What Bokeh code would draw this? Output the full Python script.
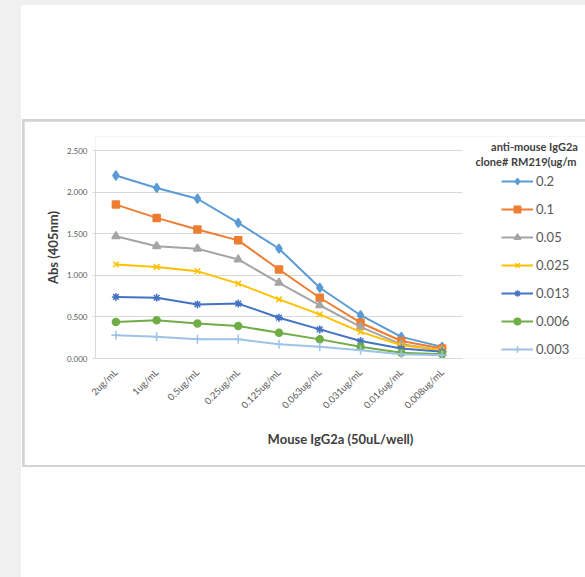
from bokeh.plotting import figure
from bokeh.models import (Range1d, Legend, LegendItem, Label, FixedTicker,
                          CustomJSTickFormatter, Spacer)
from bokeh.layouts import column, row
from bokeh.embed import file_html
from bokeh.resources import INLINE

categories = ["2ug/mL", "1ug/mL", "0.5ug/mL", "0.25ug/mL", "0.125ug/mL",
              "0.063ug/mL", "0.031ug/mL", "0.016ug/mL", "0.008ug/mL"]

s_0_2 = [2.20, 2.05, 1.92, 1.63, 1.32, 0.85, 0.52, 0.26, 0.14]
s_0_1 = [1.85, 1.69, 1.55, 1.42, 1.07, 0.73, 0.43, 0.21, 0.12]
s_0_05 = [1.47, 1.35, 1.32, 1.19, 0.91, 0.64, 0.38, 0.17, 0.10]
s_0_025 = [1.13, 1.10, 1.05, 0.90, 0.71, 0.53, 0.32, 0.16, 0.10]
s_0_013 = [0.74, 0.73, 0.65, 0.66, 0.49, 0.35, 0.21, 0.12, 0.08]
s_0_006 = [0.44, 0.46, 0.42, 0.39, 0.31, 0.23, 0.14, 0.07, 0.05]
s_0_003 = [0.28, 0.26, 0.23, 0.23, 0.17, 0.14, 0.10, 0.05, 0.04]

series_names = ["0.2", "0.1", "0.05", "0.025", "0.013", "0.006", "0.003"]
series_values = [s_0_2, s_0_1, s_0_05, s_0_025, s_0_013, s_0_006, s_0_003]
series_colors = ["#5B9BD5", "#ED7D31", "#A5A5A5", "#FFC000", "#4472C4", "#70AD47", "#9DC3E6"]
series_markers = ["diamond", "square", "triangle", "x", "asterisk", "circle", "cross"]
marker_sizes = [9, 7, 8, 8, 8, 7, 9]

y_ticks = [0.0, 0.5, 1.0, 1.5, 2.0, 2.5]

legend_title_1 = "anti-mouse IgG2a"
legend_title_2 = "clone# RM219(ug/m"
x_title = "Mouse IgG2a (50uL/well)"
y_title = "Abs (405nm)"

# ---- geometry (page pixels) ----
BOX_X, BOX_Y = 24, 121          # figure top-left on the page (inside chart box border)
FIG_W, FIG_H = 561, 344
F_LEFT, F_RIGHT, F_TOP, F_BOTTOM = 95, 585, 136, 358   # frame on page
PLOT_RIGHT, PLOT_TOP = 462, 150                          # where the data area ends

xi = list(range(len(categories)))
n = len(categories)
x_lo, x_hi = -0.5, n - 0.5
px_per_x = (PLOT_RIGHT - F_LEFT) / (x_hi - x_lo)
x_end = x_lo + (F_RIGHT - F_LEFT) / px_per_x
y_max = y_ticks[-1]
y_end = y_max * (F_BOTTOM - F_TOP) / (F_BOTTOM - PLOT_TOP)

p = figure(width=FIG_W, height=FIG_H,
           x_range=Range1d(x_lo, x_end), y_range=Range1d(0, y_end),
           output_backend="svg", toolbar_location=None,
           min_border_left=F_LEFT - BOX_X, min_border_right=0,
           min_border_top=F_TOP - BOX_Y,
           min_border_bottom=FIG_H - (F_BOTTOM - BOX_Y))
p.outline_line_color = None
p.background_fill_color = "white"
p.border_fill_color = "white"

# axes
p.yaxis.bounds = (0, y_max)
p.yaxis.ticker = FixedTicker(ticks=y_ticks)
p.yaxis.formatter = CustomJSTickFormatter(code="return tick.toFixed(3);")
p.yaxis.major_label_text_font = "Lato"
p.yaxis.major_label_text_font_size = "8px"
p.yaxis.major_label_text_color = "#595959"
p.yaxis.axis_line_color = "#d9d9d9"
p.yaxis.major_tick_line_color = "#d9d9d9"
p.yaxis.major_tick_in = 0
p.yaxis.major_tick_out = 3
p.yaxis.minor_tick_line_color = None
p.yaxis.major_label_standoff = 5
p.yaxis.axis_label = y_title
p.yaxis.axis_label_text_font = "Lato"
p.yaxis.axis_label_text_font_style = "bold"
p.yaxis.axis_label_text_font_size = "13px"
p.yaxis.axis_label_text_color = "#404040"
p.yaxis.axis_label_standoff = 3

p.xaxis.bounds = (x_lo, x_hi)
p.xaxis.ticker = FixedTicker(ticks=xi)
p.xaxis.major_label_overrides = {i: c for i, c in zip(xi, categories)}
p.xaxis.major_label_orientation = 0.7853981633974483
p.xaxis.major_label_text_font = "Lato"
p.xaxis.major_label_text_font_size = "9.5px"
p.xaxis.major_label_text_color = "#595959"
p.xaxis.axis_line_color = "#d9d9d9"
p.xaxis.major_tick_line_color = None
p.xaxis.minor_tick_line_color = None
p.xaxis.major_label_standoff = 6
p.xaxis.axis_label = x_title
p.xaxis.axis_label_text_font = "Lato"
p.xaxis.axis_label_text_font_style = "bold"
p.xaxis.axis_label_text_font_size = "13px"
p.xaxis.axis_label_text_color = "#404040"
p.xaxis.axis_label_standoff = 14

p.xgrid.grid_line_color = None
p.ygrid.ticker = FixedTicker(ticks=y_ticks)
p.ygrid.grid_line_color = "#d9d9d9"
p.ygrid.grid_line_width = 1
try:
    p.ygrid.cross_bounds = (x_lo, x_hi)
except Exception:
    p.ygrid.grid_line_color = None
    p.segment(x0=[x_lo] * len(y_ticks), y0=y_ticks, x1=[x_hi] * len(y_ticks),
              y1=y_ticks, line_color="#d9d9d9", line_width=1, level="underlay")

items = []
for name, vals, col, mk, ms in zip(series_names, series_values, series_colors,
                                   series_markers, marker_sizes):
    r1 = p.line(xi, vals, line_color=col, line_width=2)
    r2 = p.scatter(xi, vals, marker=mk, size=ms, fill_color=col,
                   line_color=col, line_width=1.5)
    items.append(LegendItem(label=name, renderers=[r1, r2]))

legend = Legend(items=items, location=(501 - F_LEFT, 1), padding=0, margin=0,
                spacing=12, label_height=16, glyph_height=16, glyph_width=32,
                label_standoff=3, label_text_font="Lato",
                label_text_font_size="13px", label_text_color="#595959",
                border_line_color=None, background_fill_alpha=0)
p.add_layout(legend)

p.add_layout(Label(x=534 - F_LEFT, y=F_BOTTOM - 146, x_units="screen", y_units="screen",
                   text=legend_title_1, text_align="center", text_baseline="middle",
                   text_font="Lato", text_font_style="bold",
                   text_font_size="11px", text_color="#404040"))
p.add_layout(Label(x=475 - F_LEFT, y=F_BOTTOM - 161, x_units="screen", y_units="screen",
                   text=legend_title_2, text_align="left", text_baseline="middle",
                   text_font="Lato", text_font_style="bold",
                   text_font_size="11px", text_color="#404040"))

# chart box border (2px grey frame drawn as a grey container around the figure)
bordered = column(Spacer(width=FIG_W + 2, height=2),
                  row(Spacer(width=2, height=FIG_H), p),
                  Spacer(width=FIG_W + 2, height=2),
                  styles={"background-color": "#d4d4d4"})
white_col = column(Spacer(width=564, height=BOX_Y - 2 - 5),
                   row(Spacer(width=1, height=FIG_H + 4), bordered),
                   Spacer(width=564, height=577 - 5 - (BOX_Y - 2 - 5) - (FIG_H + 4)),
                   styles={"background-color": "white"})
page = column(Spacer(width=585, height=5),
              row(Spacer(width=21, height=572), white_col),
              styles={"background-color": "#f0f0f0"})

open("out.html", "w").write(file_html(page, INLINE))
